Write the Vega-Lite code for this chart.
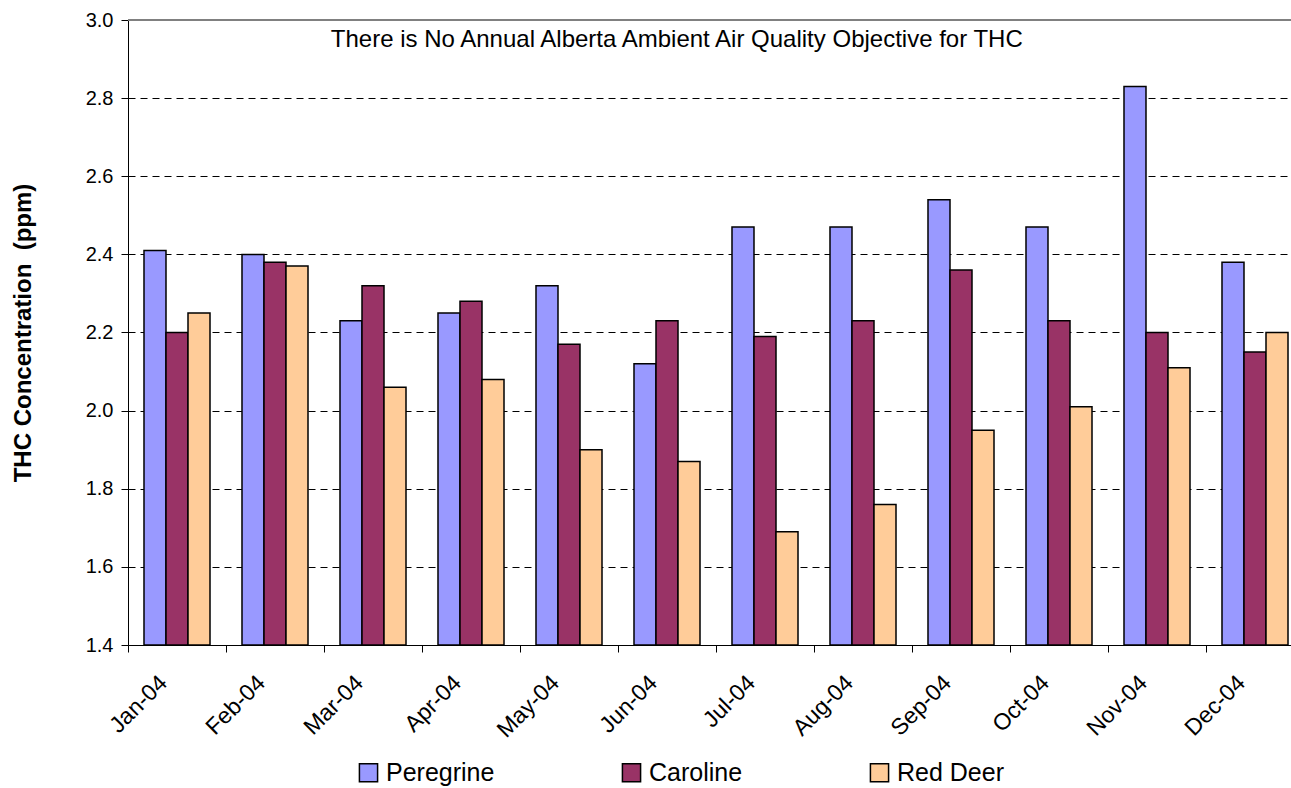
{
  "$schema": "https://vega.github.io/schema/vega-lite/v6.json",
  "width": 1163,
  "height": 625,
  "autosize": {"type": "none"},
  "padding": {"left": 128, "top": 20, "right": 0, "bottom": 143},
  "background": "white",
  "config": {
    "font": "Liberation Sans",
    "view": {"stroke": null}
  },
  "data": {
    "values": [
      {"month": "Jan-04", "station": "Peregrine", "thc": 2.41},
      {"month": "Jan-04", "station": "Caroline", "thc": 2.20},
      {"month": "Jan-04", "station": "Red Deer", "thc": 2.25},
      {"month": "Feb-04", "station": "Peregrine", "thc": 2.40},
      {"month": "Feb-04", "station": "Caroline", "thc": 2.38},
      {"month": "Feb-04", "station": "Red Deer", "thc": 2.37},
      {"month": "Mar-04", "station": "Peregrine", "thc": 2.23},
      {"month": "Mar-04", "station": "Caroline", "thc": 2.32},
      {"month": "Mar-04", "station": "Red Deer", "thc": 2.06},
      {"month": "Apr-04", "station": "Peregrine", "thc": 2.25},
      {"month": "Apr-04", "station": "Caroline", "thc": 2.28},
      {"month": "Apr-04", "station": "Red Deer", "thc": 2.08},
      {"month": "May-04", "station": "Peregrine", "thc": 2.32},
      {"month": "May-04", "station": "Caroline", "thc": 2.17},
      {"month": "May-04", "station": "Red Deer", "thc": 1.90},
      {"month": "Jun-04", "station": "Peregrine", "thc": 2.12},
      {"month": "Jun-04", "station": "Caroline", "thc": 2.23},
      {"month": "Jun-04", "station": "Red Deer", "thc": 1.87},
      {"month": "Jul-04", "station": "Peregrine", "thc": 2.47},
      {"month": "Jul-04", "station": "Caroline", "thc": 2.19},
      {"month": "Jul-04", "station": "Red Deer", "thc": 1.69},
      {"month": "Aug-04", "station": "Peregrine", "thc": 2.47},
      {"month": "Aug-04", "station": "Caroline", "thc": 2.23},
      {"month": "Aug-04", "station": "Red Deer", "thc": 1.76},
      {"month": "Sep-04", "station": "Peregrine", "thc": 2.54},
      {"month": "Sep-04", "station": "Caroline", "thc": 2.36},
      {"month": "Sep-04", "station": "Red Deer", "thc": 1.95},
      {"month": "Oct-04", "station": "Peregrine", "thc": 2.47},
      {"month": "Oct-04", "station": "Caroline", "thc": 2.23},
      {"month": "Oct-04", "station": "Red Deer", "thc": 2.01},
      {"month": "Nov-04", "station": "Peregrine", "thc": 2.83},
      {"month": "Nov-04", "station": "Caroline", "thc": 2.20},
      {"month": "Nov-04", "station": "Red Deer", "thc": 2.11},
      {"month": "Dec-04", "station": "Peregrine", "thc": 2.38},
      {"month": "Dec-04", "station": "Caroline", "thc": 2.15},
      {"month": "Dec-04", "station": "Red Deer", "thc": 2.20}
    ]
  },
  "layer": [
    {
      "mark": {"type": "bar", "stroke": "#000000", "strokeWidth": 1.5, "fillOpacity": 1},
      "encoding": {
        "x": {
          "field": "month",
          "type": "nominal",
          "sort": null,
          "scale": {"range": [0, 1176], "paddingInner": 0, "paddingOuter": 0},
          "axis": {
            "title": null,
            "tickBand": "extent",
            "labelAngle": -45,
            "labelAlign": "right",
            "labelBaseline": "middle",
            "labelOffset": -14,
            "labelPadding": 27,
            "labelFontSize": 23,
            "labelColor": "#000000",
            "labelLimit": 300,
            "tickSize": 7,
            "tickColor": "#000000",
            "domainColor": "#000000",
            "domainWidth": 1,
            "grid": false
          }
        },
        "xOffset": {
          "field": "station",
          "type": "nominal",
          "sort": ["Peregrine", "Caroline", "Red Deer"],
          "scale": {"paddingInner": 0, "paddingOuter": 0.727}
        },
        "y": {
          "field": "thc",
          "type": "quantitative",
          "scale": {"domain": [1.4, 3.0], "zero": false, "nice": false, "clamp": true},
          "axis": {
            "title": "THC Concentration\u00a0 (ppm)",
            "titleFontSize": 24,
            "titleFontWeight": "bold",
            "titleColor": "#000000",
            "titlePadding": 50,
            "values": [1.4, 1.6, 1.8, 2.0, 2.2, 2.4, 2.6, 2.8, 3.0],
            "format": ".1f",
            "labelFontSize": 20,
            "labelColor": "#000000",
            "labelPadding": 8,
            "tickSize": 7,
            "tickColor": "#000000",
            "domainColor": "#000000",
            "grid": true,
            "gridColor": "#000000",
            "gridDash": [7, 5],
            "gridWidth": 1
          }
        },
        "color": {
          "field": "station",
          "type": "nominal",
          "sort": ["Peregrine", "Caroline", "Red Deer"],
          "scale": {"domain": ["Peregrine", "Caroline", "Red Deer"], "range": ["#9999FF", "#993366", "#FFCC99"]},
          "legend": {
            "title": null,
            "orient": "none",
            "direction": "horizontal",
            "columns": 3,
            "legendX": 228,
            "legendY": 740,
            "symbolType": "square",
            "symbolSize": 330,
            "symbolStrokeColor": "#000000",
            "symbolStrokeWidth": 1.5,
            "symbolOpacity": 1,
            "labelFontSize": 25,
            "labelColor": "#000000",
            "labelOffset": 5,
            "columnPadding": 124,
            "labelLimit": 300
          }
        }
      }
    },
    {
      "mark": {"type": "rule", "stroke": "#808080", "strokeWidth": 2},
      "encoding": {"y": {"datum": 3.0}}
    },
    {
      "data": {"values": [{"note": "There is No Annual Alberta Ambient Air Quality Objective for THC", "month": "Jun-04", "level": 2.95}]},
      "mark": {"type": "text", "fontSize": 24, "color": "#000000", "align": "center", "baseline": "middle"},
      "encoding": {
        "text": {"field": "note", "type": "nominal"},
        "x": {"field": "month", "type": "nominal", "sort": null, "bandPosition": 0.6},
        "y": {"field": "level", "type": "quantitative"}
      }
    }
  ]
}
